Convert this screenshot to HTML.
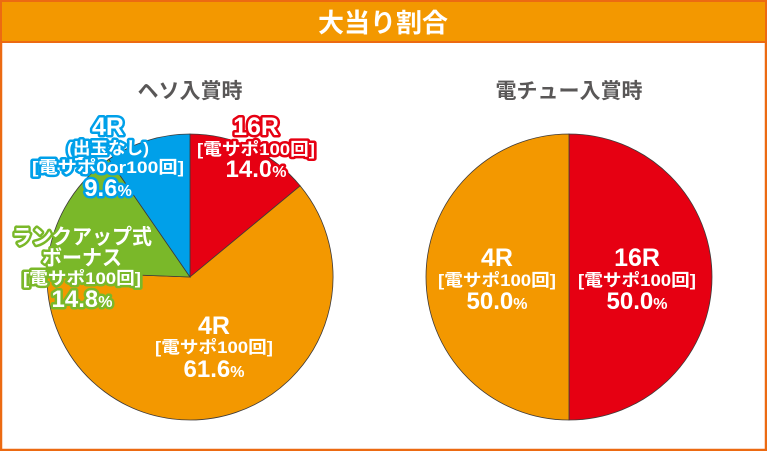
<!DOCTYPE html>
<html><head><meta charset="utf-8"><style>
html,body{margin:0;padding:0;background:#fff}
svg{display:block}
text{font-family:"Liberation Sans","Noto Sans CJK JP",sans-serif;font-weight:bold}
.o{paint-order:stroke;stroke-linejoin:round}
</style></head><body>
<svg id="chart" width="767" height="451" viewBox="0 0 767 451">
<rect x="1" y="1" width="765" height="449" fill="#fff" stroke="#ec6a12" stroke-width="2.5"/>
<rect x="2" y="2" width="763" height="40" fill="#f39800"/>
<line x1="2" y1="42" x2="765" y2="42" stroke="#ec6a12" stroke-width="2"/>
<text x="383" y="32" text-anchor="middle" font-size="26" fill="#fff">大当り割合</text>
<text x="190" y="98" text-anchor="middle" font-size="21" fill="#595757">ヘソ入賞時</text>
<text x="569" y="98" text-anchor="middle" font-size="21" fill="#595757">電チュー入賞時</text>
<g id="left"></g>
<g id="right"></g>
<g id="labels">
<g class="o" stroke="#e60012" stroke-width="5" fill="#fff" text-anchor="middle">
<text x="256" y="135" font-size="25">16R</text>
<text x="256" y="155" font-size="17" textLength="118" lengthAdjust="spacingAndGlyphs">[電サポ100回]</text>
<text x="256" y="177" font-size="24">14.0<tspan font-size="16">%</tspan></text>
</g>
<g class="o" stroke="#00a0e9" stroke-width="5" fill="#fff" text-anchor="middle">
<text x="108" y="135" font-size="25">4R</text>
<text x="108" y="154" font-size="17" textLength="82" lengthAdjust="spacingAndGlyphs">(出玉なし)</text>
<text x="108" y="173" font-size="17" textLength="152" lengthAdjust="spacingAndGlyphs">[電サポ0or100回]</text>
<text x="108" y="196" font-size="24">9.6<tspan font-size="16">%</tspan></text>
</g>
<g class="o" stroke="#7ab829" stroke-width="5" fill="#fff" text-anchor="middle">
<text x="82" y="244" font-size="21" textLength="140" lengthAdjust="spacingAndGlyphs">ランクアップ式</text>
<text x="82" y="265" font-size="21" textLength="80" lengthAdjust="spacingAndGlyphs">ボーナス</text>
<text x="82" y="284" font-size="17" textLength="118" lengthAdjust="spacingAndGlyphs">[電サポ100回]</text>
<text x="82" y="307" font-size="24">14.8<tspan font-size="16">%</tspan></text>
</g>
<g fill="#fff" text-anchor="middle">
<text x="214" y="334" font-size="25">4R</text>
<text x="214" y="353" font-size="17" textLength="118" lengthAdjust="spacingAndGlyphs">[電サポ100回]</text>
<text x="214" y="377" font-size="24">61.6<tspan font-size="16">%</tspan></text>
</g>
<g fill="#fff" text-anchor="middle">
<text x="497" y="266" font-size="25">4R</text>
<text x="497" y="286" font-size="17" textLength="118" lengthAdjust="spacingAndGlyphs">[電サポ100回]</text>
<text x="497" y="309" font-size="24">50.0<tspan font-size="16">%</tspan></text>
</g>
<g fill="#fff" text-anchor="middle">
<text x="637" y="266" font-size="25">16R</text>
<text x="637" y="286" font-size="17" textLength="118" lengthAdjust="spacingAndGlyphs">[電サポ100回]</text>
<text x="637" y="309" font-size="24">50.0<tspan font-size="16">%</tspan></text>
</g>
</g>
</svg>
<script>
const leftCategories = ["16R", "4R", "rankup-bonus", "4R-nodama"];
const leftValues = [14.0, 61.6, 14.8, 9.6];
const leftColors = ["#e60012", "#f39800", "#7ab829", "#00a0e9"];
const rightCategories = ["16R", "4R"];
const rightValues = [50.0, 50.0];
const rightColors = ["#e60012", "#f39800"];

function drawPie(gid, cx, cy, r, cats, vals, cols) {
  const g = document.getElementById(gid);
  const total = vals.reduce((a, b) => a + b, 0);
  let a0 = 0;
  vals.forEach((v, i) => {
    const a1 = a0 + v / total * Math.PI * 2;
    const x0 = cx + r * Math.sin(a0), y0 = cy - r * Math.cos(a0);
    const x1 = cx + r * Math.sin(a1), y1 = cy - r * Math.cos(a1);
    const large = (a1 - a0) > Math.PI ? 1 : 0;
    const p = document.createElementNS("http://www.w3.org/2000/svg", "path");
    p.setAttribute("d", `M${cx},${cy} L${x0},${y0} A${r},${r} 0 ${large} 1 ${x1},${y1} Z`);
    p.setAttribute("fill", cols[i]);
    p.setAttribute("stroke", "#3e3a39");
    p.setAttribute("stroke-width", "0.8");
    
    
    g.appendChild(p);
    a0 = a1;
  });
}
drawPie("left", 190, 277, 143, leftCategories, leftValues, leftColors);
drawPie("right", 569, 277, 143, rightCategories, rightValues, rightColors);
</script>
</body></html>
